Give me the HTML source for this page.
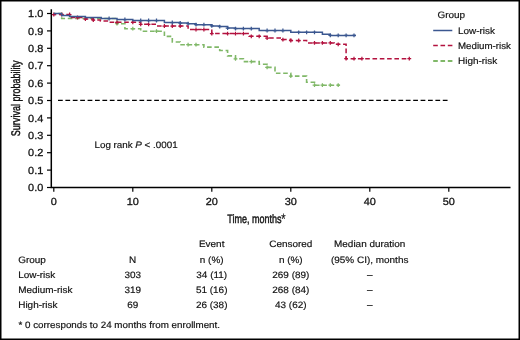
<!DOCTYPE html>
<html><head><meta charset="utf-8"><style>
html,body{margin:0;padding:0;background:#fff;}
svg{display:block;will-change:transform;}
text{text-rendering:geometricPrecision;font-family:"Liberation Sans",sans-serif;fill:#111;}
.t{font-size:10px;stroke:#161616;stroke-width:0.18px;}
.tk{font-size:10.3px;stroke:#161616;stroke-width:0.3px;}
.al{font-size:12.2px;stroke:#161616;stroke-width:0.45px;}
</style></head><body>
<svg width="520" height="340" viewBox="0 0 520 340">
<rect x="0.75" y="0.75" width="518.5" height="338.5" fill="#fff" stroke="#000" stroke-width="1.5"/>
<path d="M51.3,9.2V187.6H510.5" fill="none" stroke="#000" stroke-width="1.5"/>
<line x1="47" y1="187.5" x2="51.5" y2="187.5" stroke="#000" stroke-width="1.2"/>
<text transform="translate(43.3,191.10) scale(1.06,1)" text-anchor="end" class="tk">0.0</text>
<line x1="47" y1="170.1" x2="51.5" y2="170.1" stroke="#000" stroke-width="1.2"/>
<text transform="translate(43.3,173.70) scale(1.06,1)" text-anchor="end" class="tk">0.1</text>
<line x1="47" y1="152.7" x2="51.5" y2="152.7" stroke="#000" stroke-width="1.2"/>
<text transform="translate(43.3,156.30) scale(1.06,1)" text-anchor="end" class="tk">0.2</text>
<line x1="47" y1="135.3" x2="51.5" y2="135.3" stroke="#000" stroke-width="1.2"/>
<text transform="translate(43.3,138.90) scale(1.06,1)" text-anchor="end" class="tk">0.3</text>
<line x1="47" y1="117.9" x2="51.5" y2="117.9" stroke="#000" stroke-width="1.2"/>
<text transform="translate(43.3,121.50) scale(1.06,1)" text-anchor="end" class="tk">0.4</text>
<line x1="47" y1="100.5" x2="51.5" y2="100.5" stroke="#000" stroke-width="1.2"/>
<text transform="translate(43.3,104.10) scale(1.06,1)" text-anchor="end" class="tk">0.5</text>
<line x1="47" y1="83.10000000000001" x2="51.5" y2="83.10000000000001" stroke="#000" stroke-width="1.2"/>
<text transform="translate(43.3,86.70) scale(1.06,1)" text-anchor="end" class="tk">0.6</text>
<line x1="47" y1="65.70000000000002" x2="51.5" y2="65.70000000000002" stroke="#000" stroke-width="1.2"/>
<text transform="translate(43.3,69.30) scale(1.06,1)" text-anchor="end" class="tk">0.7</text>
<line x1="47" y1="48.30000000000001" x2="51.5" y2="48.30000000000001" stroke="#000" stroke-width="1.2"/>
<text transform="translate(43.3,51.90) scale(1.06,1)" text-anchor="end" class="tk">0.8</text>
<line x1="47" y1="30.900000000000006" x2="51.5" y2="30.900000000000006" stroke="#000" stroke-width="1.2"/>
<text transform="translate(43.3,34.50) scale(1.06,1)" text-anchor="end" class="tk">0.9</text>
<line x1="47" y1="13.5" x2="51.5" y2="13.5" stroke="#000" stroke-width="1.2"/>
<text transform="translate(43.3,17.10) scale(1.06,1)" text-anchor="end" class="tk">1.0</text>
<line x1="53.8" y1="187.5" x2="53.8" y2="191.8" stroke="#000" stroke-width="1.2"/>
<text transform="translate(53.80,205.4) scale(1.06,1)" text-anchor="middle" class="tk">0</text>
<line x1="132.8" y1="187.5" x2="132.8" y2="191.8" stroke="#000" stroke-width="1.2"/>
<text transform="translate(132.80,205.4) scale(1.06,1)" text-anchor="middle" class="tk">10</text>
<line x1="211.8" y1="187.5" x2="211.8" y2="191.8" stroke="#000" stroke-width="1.2"/>
<text transform="translate(211.80,205.4) scale(1.06,1)" text-anchor="middle" class="tk">20</text>
<line x1="290.8" y1="187.5" x2="290.8" y2="191.8" stroke="#000" stroke-width="1.2"/>
<text transform="translate(290.80,205.4) scale(1.06,1)" text-anchor="middle" class="tk">30</text>
<line x1="369.8" y1="187.5" x2="369.8" y2="191.8" stroke="#000" stroke-width="1.2"/>
<text transform="translate(369.80,205.4) scale(1.06,1)" text-anchor="middle" class="tk">40</text>
<line x1="448.8" y1="187.5" x2="448.8" y2="191.8" stroke="#000" stroke-width="1.2"/>
<text transform="translate(448.80,205.4) scale(1.06,1)" text-anchor="middle" class="tk">50</text>
<line x1="58" y1="100.4" x2="447.8" y2="100.4" stroke="#000" stroke-width="1.3" stroke-dasharray="4.75 2.65"/>
<path d="M53.80,13.5H61.70V18.5H117.00V23.7H124.90V28.7H140.70V31.2H164.40V36.4H172.30V42H180.20V44.7H203.90V47.1H219.70V50.5H227.60V55.9H235.50V58.8H243.40V61.6H259.20V64.3H267.10V67.4H275.00V73.2H290.80V76.1H306.60V82.3H314.50V85.2H339.78" fill="none" stroke="#80b868" stroke-width="1.6" stroke-dasharray="4.6 2.7" stroke-dashoffset="2.92"/>
<path d="M117.00,21.80V25.60M115.10,23.7H118.90M132.80,26.80V30.60M130.90,28.7H134.70M156.50,29.30V33.10M154.60,31.2H158.40M188.10,42.80V46.60M186.20,44.7H190.00M196.00,42.80V46.60M194.10,44.7H197.90M235.50,56.90V60.70M233.60,58.8H237.40M251.30,59.70V63.50M249.40,61.6H253.20M267.10,65.50V69.30M265.20,67.4H269.00M290.80,74.20V78.00M288.90,76.1H292.70M314.50,83.30V87.10M312.60,85.2H316.40M322.40,83.30V87.10M320.50,85.2H324.30M330.30,83.30V87.10M328.40,85.2H332.20M338.20,83.30V87.10M336.30,85.2H340.10" stroke="#80b868" stroke-width="1.25" fill="none"/>
<path d="M53.80,14.5H69.60V17.5H85.40V19H93.30V20H100.41V21.1H109.10V22.3H140.70V24.3H156.50V26H188.10V29.5H211.80V33.6H248.93V36.3H267.10V38H282.90V39.6H290.80V40.5H306.60V42.9H334.25V44.3H346.10V58.7H410.09" fill="none" stroke="#b3123f" stroke-width="1.5" stroke-dasharray="4.6 2.7" stroke-dashoffset="2.1"/>
<path d="M53.80,12.60V16.40M51.90,14.5H55.70M61.70,12.60V16.40M59.80,14.5H63.60M69.60,12.60V16.40M67.70,14.5H71.50M77.50,15.60V19.40M75.60,17.5H79.40M85.40,17.10V20.90M83.50,19H87.30M93.30,18.10V21.90M91.40,20H95.20M117.00,20.40V24.20M115.10,22.3H118.90M132.80,20.40V24.20M130.90,22.3H134.70M140.70,22.40V26.20M138.80,24.3H142.60M148.60,22.40V26.20M146.70,24.3H150.50M164.40,24.10V27.90M162.50,26H166.30M172.30,24.10V27.90M170.40,26H174.20M180.20,24.10V27.90M178.30,26H182.10M196.00,27.60V31.40M194.10,29.5H197.90M203.90,27.60V31.40M202.00,29.5H205.80M211.80,31.70V35.50M209.90,33.6H213.70M227.60,31.70V35.50M225.70,33.6H229.50M235.50,31.70V35.50M233.60,33.6H237.40M243.40,31.70V35.50M241.50,33.6H245.30M251.30,34.40V38.20M249.40,36.3H253.20M259.20,34.40V38.20M257.30,36.3H261.10M267.10,36.10V39.90M265.20,38H269.00M282.90,37.70V41.50M281.00,39.6H284.80M290.80,38.60V42.40M288.90,40.5H292.70M298.70,38.60V42.40M296.80,40.5H300.60M314.50,41.00V44.80M312.60,42.9H316.40M322.40,41.00V44.80M320.50,42.9H324.30M330.30,41.00V44.80M328.40,42.9H332.20M338.20,42.40V46.20M336.30,44.3H340.10M346.10,56.80V60.60M344.20,58.7H348.00M354.00,56.80V60.60M352.10,58.7H355.90M361.90,56.80V60.60M360.00,58.7H363.80M409.30,56.80V60.60M407.40,58.7H411.20" stroke="#b3123f" stroke-width="1.25" fill="none"/>
<path d="M53.80,13.5H61.70V15.5H69.60V16.5H85.40V17.5H101.20V18.5H117.00V19.5H132.80V20.5H164.40V22.5H180.20V23H188.10V23.7H196.00V24.7H211.80V25.9H219.70V26.6H227.60V28H235.50V28.6H259.20V30.5H290.80V32.3H322.40V34.3H330.30V35.4H355.98" fill="none" stroke="#3b5790" stroke-width="1.5"/>
<path d="M109.10,16.60V20.40M107.20,18.5H111.00M124.90,17.60V21.40M123.00,19.5H126.80M140.70,18.60V22.40M138.80,20.5H142.60M148.60,18.60V22.40M146.70,20.5H150.50M156.50,18.60V22.40M154.60,20.5H158.40M172.30,20.60V24.40M170.40,22.5H174.20M180.20,21.10V24.90M178.30,23H182.10M188.10,21.80V25.60M186.20,23.7H190.00M196.00,22.80V26.60M194.10,24.7H197.90M203.90,22.80V26.60M202.00,24.7H205.80M211.80,24.00V27.80M209.90,25.9H213.70M219.70,24.70V28.50M217.80,26.6H221.60M227.60,26.10V29.90M225.70,28H229.50M235.50,26.70V30.50M233.60,28.6H237.40M243.40,26.70V30.50M241.50,28.6H245.30M251.30,26.70V30.50M249.40,28.6H253.20M267.10,28.60V32.40M265.20,30.5H269.00M275.00,28.60V32.40M273.10,30.5H276.90M282.90,28.60V32.40M281.00,30.5H284.80M298.70,30.40V34.20M296.80,32.3H300.60M306.60,30.40V34.20M304.70,32.3H308.50M314.50,30.40V34.20M312.60,32.3H316.40M330.30,33.50V37.30M328.40,35.4H332.20M338.20,33.50V37.30M336.30,35.4H340.10M346.10,33.50V37.30M344.20,35.4H348.00M354.00,33.50V37.30M352.10,35.4H355.90" stroke="#3b5790" stroke-width="1.25" fill="none"/>
<text transform="translate(20.2,98.3) rotate(-90) scale(0.722,1)" text-anchor="middle" class="al" style="font-size:12.5px">Survival probability</text>
<text transform="translate(227.3,223.2) scale(0.74,1)" class="al">Time, months<tspan style="font-size:15px;stroke-width:0.15px" dy="0.6" dx="-0.6">*</tspan></text>
<text transform="translate(94.50,148.10) scale(1.05395,1)" class="t" style="font-size:9.3px">Log rank <tspan font-style="italic">P</tspan> &lt; .0001</text>
<text transform="translate(437.50,18.30) scale(1.07,1)" class="t" style="font-size:9.3px">Group</text>
<line x1="433.2" y1="30.5" x2="452.3" y2="30.5" stroke="#3b5790" stroke-width="1.5"/>
<line x1="433.2" y1="45.5" x2="452.5" y2="45.5" stroke="#b3123f" stroke-width="1.6" stroke-dasharray="4.6 2.7"/>
<line x1="433.2" y1="61" x2="452.5" y2="61" stroke="#80b868" stroke-width="1.8" stroke-dasharray="4.6 2.7"/>
<text transform="translate(458.00,33.70) scale(1.07,1)" class="t" style="font-size:9.3px">Low-risk</text>
<text transform="translate(458.00,49.10) scale(1.045,1)" class="t" style="font-size:9.3px">Medium-risk</text>
<text transform="translate(458.00,64.40) scale(1.07,1)" class="t" style="font-size:9.3px">High-risk</text>
<text transform="translate(211.70,247.40) scale(1.07,1)" text-anchor="middle" class="t" style="font-size:9.3px">Event</text>
<text transform="translate(290.80,247.40) scale(1.07,1)" text-anchor="middle" class="t" style="font-size:9.3px">Censored</text>
<text transform="translate(369.70,247.40) scale(1.07,1)" text-anchor="middle" class="t" style="font-size:9.3px">Median duration</text>
<text transform="translate(18.20,262.50) scale(1.07,1)" class="t" style="font-size:9.3px">Group</text>
<text transform="translate(132.70,262.50) scale(1.07,1)" text-anchor="middle" class="t" style="font-size:9.3px">N</text>
<text transform="translate(211.70,262.50) scale(1.07,1)" text-anchor="middle" class="t" style="font-size:9.3px">n (%)</text>
<text transform="translate(290.80,262.50) scale(1.07,1)" text-anchor="middle" class="t" style="font-size:9.3px">n (%)</text>
<text transform="translate(369.70,262.50) scale(1.07,1)" text-anchor="middle" class="t" style="font-size:9.3px">(95% CI), months</text>
<text transform="translate(18.20,277.80) scale(1.07,1)" class="t" style="font-size:9.3px">Low-risk</text>
<text transform="translate(132.70,277.80) scale(1.07,1)" text-anchor="middle" class="t" style="font-size:9.3px">303</text>
<text transform="translate(211.70,277.80) scale(1.07,1)" text-anchor="middle" class="t" style="font-size:9.3px">34 (11)</text>
<text transform="translate(290.80,277.80) scale(1.07,1)" text-anchor="middle" class="t" style="font-size:9.3px">269 (89)</text>
<text transform="translate(369.70,277.80) scale(1.07,1)" text-anchor="middle" class="t" style="font-size:9.3px">–</text>
<text transform="translate(18.20,293.10) scale(1.07,1)" class="t" style="font-size:9.3px">Medium-risk</text>
<text transform="translate(132.70,293.10) scale(1.07,1)" text-anchor="middle" class="t" style="font-size:9.3px">319</text>
<text transform="translate(211.70,293.10) scale(1.07,1)" text-anchor="middle" class="t" style="font-size:9.3px">51 (16)</text>
<text transform="translate(290.80,293.10) scale(1.07,1)" text-anchor="middle" class="t" style="font-size:9.3px">268 (84)</text>
<text transform="translate(369.70,293.10) scale(1.07,1)" text-anchor="middle" class="t" style="font-size:9.3px">–</text>
<text transform="translate(18.20,308.00) scale(1.07,1)" class="t" style="font-size:9.3px">High-risk</text>
<text transform="translate(132.70,308.00) scale(1.07,1)" text-anchor="middle" class="t" style="font-size:9.3px">69</text>
<text transform="translate(211.70,308.00) scale(1.07,1)" text-anchor="middle" class="t" style="font-size:9.3px">26 (38)</text>
<text transform="translate(290.80,308.00) scale(1.07,1)" text-anchor="middle" class="t" style="font-size:9.3px">43 (62)</text>
<text transform="translate(369.70,308.00) scale(1.07,1)" text-anchor="middle" class="t" style="font-size:9.3px">–</text>
<text transform="translate(18.50,327.90) scale(1.05395,1)" class="t" style="font-size:9.3px">* 0 corresponds to 24 months from enrollment.</text>
</svg>
</body></html>
